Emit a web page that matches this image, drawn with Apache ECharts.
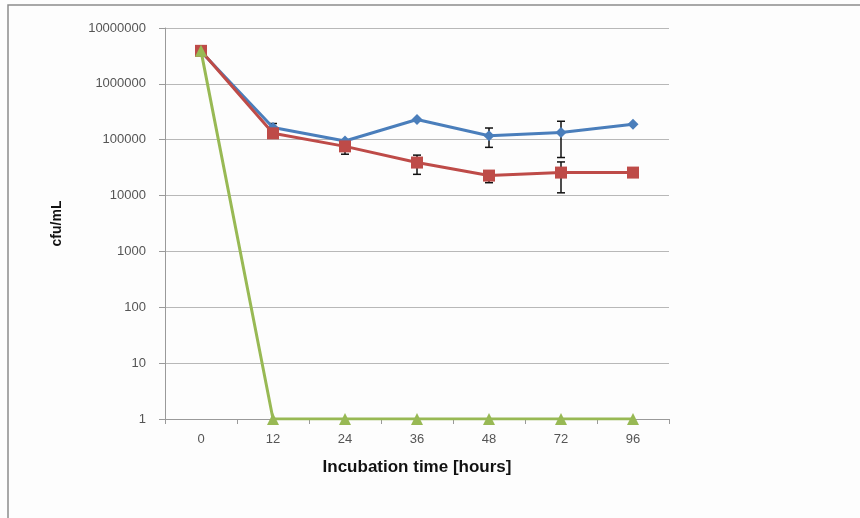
<!DOCTYPE html>
<html>
<head>
<meta charset="utf-8">
<script src="https://cdn.jsdelivr.net/npm/echarts@6/dist/echarts.min.js"></script>
<style>
html,body{margin:0;padding:0;background:#fdfdfd;}
#main{width:860px;height:518px;}
</style>
</head>
<body>
<div id="main"></div>
<script>
var categories = ['0', '12', '24', '36', '48', '72', '96'];
var yTicks = [1, 10, 100, 1000, 10000, 100000, 1000000, 10000000];

var blueValues = [3800000, 165000, 95000, 230000, 118000, 135000, 190000];
var redValues  = [3900000, 130000, 76000, 39000, 22800, 25800, 25800];
var greenValues = [3900000, 1, 1, 1, 1, 1, 1];

// error bars: [category index, low, high]
var blueErrors = [[1, 150000, 195000], [4, 73000, 162000], [5, 48000, 214000]];
var redErrors  = [[2, 55000, 76000], [3, 24000, 53000], [4, 17000, 22800], [5, 11200, 40000]];

var chart = echarts.init(document.getElementById('main'), null, {renderer: 'canvas'});

function errorRender(params, api) {
  var x = api.value(0);
  var lo = api.coord([x, api.value(1)]);
  var hi = api.coord([x, api.value(2)]);
  var w = 4;
  var style = {stroke: '#111', lineWidth: 1.5};
  return {
    type: 'group',
    children: [
      {type: 'line', shape: {x1: lo[0], y1: lo[1], x2: hi[0], y2: hi[1]}, style: style},
      {type: 'line', shape: {x1: lo[0] - w, y1: lo[1], x2: lo[0] + w, y2: lo[1]}, style: style},
      {type: 'line', shape: {x1: hi[0] - w, y1: hi[1], x2: hi[0] + w, y2: hi[1]}, style: style}
    ]
  };
}

var option = {
  backgroundColor: '#fdfdfd',
  animation: false,
  textStyle: {fontFamily: 'Liberation Sans, Arial, sans-serif'},
  graphic: [{
    type: 'rect',
    shape: {x: 8, y: 5, width: 900, height: 600},
    style: {fill: 'none', stroke: '#8c8c8c', lineWidth: 1.5},
    silent: true
  }],
  grid: {left: 165, right: 191, top: 28, bottom: 99, containLabel: false},
  xAxis: {
    type: 'category',
    data: categories,
    boundaryGap: true,
    name: 'Incubation time [hours]',
    nameLocation: 'middle',
    nameGap: 40,
    nameTextStyle: {fontSize: 17, fontWeight: 'bold', color: '#111', fontFamily: 'Liberation Sans, Arial, sans-serif'},
    axisLine: {lineStyle: {color: '#9a9a9a', width: 1}},
    axisTick: {show: true, length: 5, lineStyle: {color: '#9a9a9a'}},
    axisLabel: {fontSize: 13, color: '#555', margin: 14},
    splitLine: {show: false}
  },
  yAxis: {
    type: 'log',
    logBase: 10,
    min: 1,
    max: 10000000,
    name: 'cfu/mL',
    nameLocation: 'middle',
    nameGap: 101,
    nameRotate: 90,
    nameTextStyle: {fontSize: 14, fontWeight: 'bold', color: '#111', fontFamily: 'Liberation Sans, Arial, sans-serif'},
    axisLine: {show: true, lineStyle: {color: '#9a9a9a', width: 1}},
    axisTick: {show: true, length: 6, lineStyle: {color: '#9a9a9a'}},
    axisLabel: {
      fontSize: 13, color: '#555', margin: 19,
      formatter: function (v) {
        var r = Math.round(v);
        return yTicks.indexOf(r) >= 0 ? String(r) : '';
      }
    },
    splitLine: {show: true, lineStyle: {color: '#b8b8b8', width: 1.2}}
  },
  series: [
    {
      name: 'blueErr', type: 'custom', data: blueErrors,
      renderItem: errorRender, z: 1
    },
    {
      name: 'redErr', type: 'custom', data: redErrors,
      renderItem: errorRender, z: 1
    },
    {
      name: 'blue', type: 'line', data: blueValues,
      symbol: 'diamond', symbolSize: 11,
      lineStyle: {color: '#4a7ebb', width: 3},
      itemStyle: {color: '#4a7ebb'}, z: 2
    },
    {
      name: 'red', type: 'line', data: redValues,
      symbol: 'rect', symbolSize: 12,
      lineStyle: {color: '#be4b48', width: 3},
      itemStyle: {color: '#be4b48'}, z: 3
    },
    {
      name: 'green', type: 'line', data: greenValues,
      symbol: 'triangle', symbolSize: 12,
      lineStyle: {color: '#98b954', width: 3},
      itemStyle: {color: '#98b954'}, z: 4
    }
  ]
};
chart.setOption(option);
</script>
</body>
</html>
